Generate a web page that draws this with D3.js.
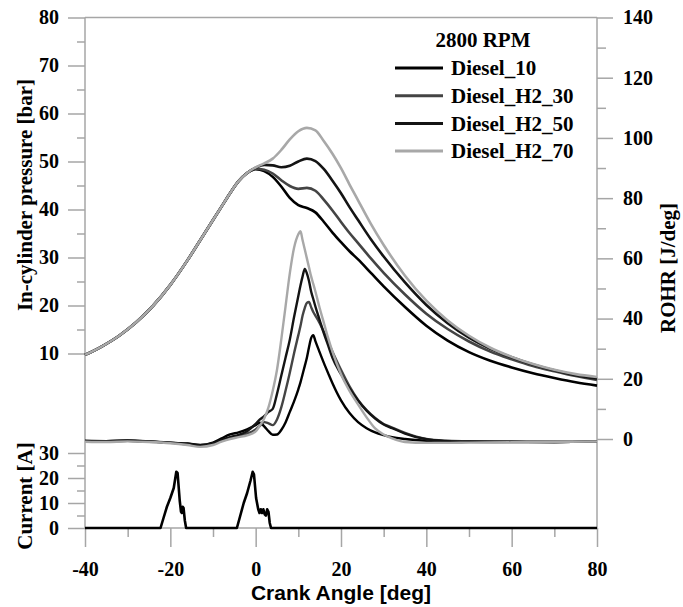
<!DOCTYPE html>
<html>
<head>
<meta charset="utf-8">
<script src="https://cdn.jsdelivr.net/npm/d3@7"></script>
<style>
  body { margin: 0; background: #fff; }
  svg text { font-family: "Liberation Serif", "Times New Roman", serif; font-weight: bold; fill: #000; }
</style>
</head>
<body>
<svg id="chart" width="683" height="607"></svg>
<script>
// series names + colours (legend order)
const seriesNames = ["Diesel_10", "Diesel_H2_30", "Diesel_H2_50", "Diesel_H2_70"];
const seriesColors = ["#000000", "#444444", "#141414", "#a8a8a8"];

// in-cylinder pressure [bar]: shared compression stroke, then one tail per case
const compressionAngles = [-40, -36, -32, -28, -24, -20, -16, -12, -8, -6, -4, -2];
const compressionPressure = [9.7, 11.5, 13.7, 16.5, 20.0, 24.3, 29.4, 35.0, 40.6, 43.4, 45.9, 47.6];

const expansionAngles = [0, 2, 4, 6, 8, 10, 12, 14, 16, 18, 20, 22, 24, 27, 30, 35, 40, 45, 50, 55, 60, 65, 70, 75, 80];
const pressureD10 = [48.4, 48.0, 46.8, 44.8, 42.4, 40.9, 40.3, 39.4, 37.4, 35.2, 33.2, 31.3, 29.6, 26.8, 24.0, 19.7, 15.8, 12.7, 10.3, 8.5, 7.1, 5.9, 4.9, 4.0, 3.3];
const pressureH30 = [48.5, 48.3, 47.5, 46.1, 44.9, 44.3, 44.5, 43.9, 42.0, 39.8, 37.4, 35.1, 33.0, 29.8, 26.8, 22.3, 18.3, 15.1, 12.5, 10.4, 8.8, 7.4, 6.3, 5.3, 4.5];
const pressureH50 = [48.7, 49.3, 49.2, 48.8, 49.1, 50.0, 50.6, 50.1, 48.4, 46.0, 43.4, 40.5, 37.8, 33.8, 30.2, 24.8, 20.1, 16.3, 13.3, 11.0, 9.2, 7.7, 6.5, 5.5, 4.8];
const pressureH70 = [48.8, 49.6, 50.6, 52.4, 54.6, 56.3, 57.0, 56.5, 54.2, 51.6, 48.6, 45.2, 41.9, 37.0, 32.6, 26.2, 21.0, 16.9, 13.7, 11.2, 9.3, 7.8, 6.6, 5.7, 5.1];

// rate of heat release [J/deg]
const rohrAngles = [-40, -35, -30, -25, -20, -16, -13, -10, -8, -6, -4, -2, 0, 1, 2, 3, 4, 5, 6, 7, 8, 9, 10, 10.5, 11, 11.5, 12, 12.5, 13, 13.5, 14, 15, 16, 17, 18, 20, 22, 24, 26, 28, 30, 32, 35, 40, 45, 50, 60, 70, 80];
const rohrD10 = [-0.6, -0.7, -0.5, -0.8, -1.3, -1.5, -2.0, -1.2, 0.2, 1.5, 2.2, 3.2, 4.6, 5.4, 4.2, 2.6, 1.4, 1.5, 3.0, 5.5, 9.0, 12.5, 16.5, 18.8, 21.5, 24.2, 27.0, 30.5, 33.5, 34.5, 32.5, 28.8, 25.2, 21.8, 18.5, 12.8, 8.6, 5.6, 3.6, 2.2, 1.3, 0.6, 0.0, -0.6, -0.8, -0.8, -0.9, -1.0, -0.7];
const rohrH30 = [-0.8, -0.8, -0.6, -0.9, -1.2, -1.8, -2.3, -1.7, -0.6, 0.4, 1.0, 1.8, 3.2, 4.4, 5.6, 5.2, 4.6, 6.5, 10.5, 16.0, 22.0, 28.5, 34.5, 37.5, 41.0, 43.5, 45.2, 45.5, 43.8, 42.2, 41.0, 38.5, 35.5, 32.3, 29.0, 23.0, 17.5, 13.0, 9.6, 7.0, 5.0, 3.8, 2.0, 0.0, -0.6, -0.8, -0.9, -1.0, -0.7];
const rohrH50 = [-0.7, -0.7, -0.6, -0.8, -1.2, -1.6, -2.1, -1.4, -0.3, 0.6, 1.4, 2.6, 5.0, 6.5, 7.6, 9.0, 10.0, 15.0, 21.0, 27.0, 33.0, 40.5, 47.5, 51.0, 54.0, 56.5, 55.0, 52.5, 49.0, 46.5, 44.0, 39.5, 35.0, 31.0, 27.0, 21.5, 16.8, 12.8, 9.4, 6.8, 4.8, 3.6, 1.8, -0.1, -0.7, -0.9, -1.0, -1.0, -0.7];
const rohrH70 = [-0.9, -1.0, -0.8, -1.0, -1.4, -2.0, -2.6, -2.0, -0.9, 0.0, 0.6, 1.2, 2.5, 4.5, 6.8, 10.5, 16.0, 23.0, 33.0, 44.0, 55.0, 63.5, 68.0, 69.0, 66.0, 63.0, 60.0, 57.0, 54.0, 51.5, 49.0, 43.5, 38.5, 33.5, 29.0, 21.5, 16.0, 11.5, 7.2, 3.5, 1.5, 0.2, -1.0, -1.3, -1.3, -1.2, -1.1, -1.0, -0.8];

// injector current [A]
const currentAngles = [-40, -22.3, -21.6, -20.8, -20.0, -19.2, -18.6, -18.3, -17.8, -17.5, -17.3, -17.1, -16.9, -16.6, -16.3, -4.4, -3.6, -2.8, -2.0, -1.2, -0.7, -0.4, 0.1, 0.6, 0.9, 1.2, 1.5, 1.8, 2.1, 2.4, 2.7, 3.0, 3.3, 3.6, 80];
const currentAmps = [0, 0, 4, 8.5, 12, 16, 22.5, 22, 11, 6.5, 6, 8.5, 8, 3, 0, 0, 5, 10, 14, 19, 22.5, 21.5, 12, 7.5, 6, 7.5, 6, 7.5, 5.5, 5, 7.5, 6.5, 2, 0, 0];

// tick values
const crankTicks = [-40, -20, 0, 20, 40, 60, 80];
const crankMinor = [-30, -10, 10, 30, 50, 70];
const pressureTicks = [10, 20, 30, 40, 50, 60, 70, 80];
const pressureMinor = [15, 25, 35, 45, 55, 65, 75];
const rohrTicks = [0, 20, 40, 60, 80, 100, 120, 140];
const rohrMinor = [10, 30, 50, 70, 90, 110, 130];
const currentTicks = [0, 10, 20, 30];
const currentMinor = [5, 15, 25];

const axisColor = "#a6a6a6";
const plotLeft = 85, plotRight = 597, plotTop = 17.5, plotBottom = 528;
const plain = d => String(d); // keep the ascii hyphen for negatives

const svg = d3.select("#chart");

const x = d3.scaleLinear().domain([-40, 80]).range([plotLeft, plotRight]);
const yP = d3.scaleLinear().domain([0, 80]).range([401.5, plotTop]);
const yR = d3.scaleLinear().domain([0, 140]).range([439, plotTop]);
const yC = d3.scaleLinear().domain([0, 30]).range([plotBottom, 453]);

function styleAxis(g) {
  g.select(".domain").remove();
  g.selectAll(".tick line").attr("stroke", axisColor).attr("stroke-width", 1.5);
  g.selectAll(".tick text").attr("font-size", 20).attr("fill", "#000");
}

// frame
const frame = svg.append("g").attr("class", "frame")
  .attr("stroke", axisColor).attr("stroke-width", 1.5);
frame.append("line").attr("x1", plotLeft).attr("x2", plotLeft).attr("y1", plotTop).attr("y2", plotBottom);
frame.append("line").attr("x1", plotRight).attr("x2", plotRight).attr("y1", plotTop).attr("y2", plotBottom);
frame.append("line").attr("x1", plotLeft).attr("x2", plotRight).attr("y1", plotTop).attr("y2", plotTop);
frame.append("line").attr("x1", plotLeft).attr("x2", plotRight).attr("y1", plotBottom).attr("y2", plotBottom);

// left axes
svg.append("g").attr("transform", `translate(${plotLeft},0)`)
  .call(d3.axisLeft(yP).tickValues(pressureTicks).tickFormat(plain).tickSize(17).tickPadding(9)).call(styleAxis);
svg.append("g").attr("transform", `translate(${plotLeft},0)`)
  .call(d3.axisLeft(yP).tickValues(pressureMinor).tickSize(8).tickFormat("")).call(styleAxis);
svg.append("g").attr("transform", `translate(${plotLeft},0)`)
  .call(d3.axisLeft(yC).tickValues(currentTicks).tickFormat(plain).tickSize(17).tickPadding(9)).call(styleAxis);
svg.append("g").attr("transform", `translate(${plotLeft},0)`)
  .call(d3.axisLeft(yC).tickValues(currentMinor).tickSize(8).tickFormat("")).call(styleAxis);

// right axis
svg.append("g").attr("transform", `translate(${plotRight},0)`)
  .call(d3.axisRight(yR).tickValues(rohrTicks).tickFormat(plain).tickSize(16).tickPadding(10)).call(styleAxis);
svg.append("g").attr("transform", `translate(${plotRight},0)`)
  .call(d3.axisRight(yR).tickValues(rohrMinor).tickSize(9).tickFormat("")).call(styleAxis);

// bottom axis
svg.append("g").attr("transform", `translate(0,${plotBottom})`)
  .call(d3.axisBottom(x).tickValues(crankTicks).tickFormat(plain).tickSize(19).tickPadding(15)).call(styleAxis);
svg.append("g").attr("transform", `translate(0,${plotBottom})`)
  .call(d3.axisBottom(x).tickValues(crankMinor).tickSize(9).tickFormat("")).call(styleAxis);

// lines
const pressureSeries = [pressureD10, pressureH30, pressureH50, pressureH70].map(tail =>
  compressionAngles.map((a, i) => [a, compressionPressure[i]])
    .concat(expansionAngles.map((a, i) => [a, tail[i]])));
const rohrSeries = [rohrD10, rohrH30, rohrH50, rohrH70].map(vals =>
  rohrAngles.map((a, i) => [a, vals[i]]));
const currentSeries = currentAngles.map((a, i) => [a, currentAmps[i]]);

const pLine = d3.line().x(d => x(d[0])).y(d => yP(d[1])).curve(d3.curveMonotoneX);
const rLine = d3.line().x(d => x(d[0])).y(d => yR(d[1])).curve(d3.curveMonotoneX);
const cLine = d3.line().x(d => x(d[0])).y(d => yC(d[1]));

svg.append("g").attr("class", "pressure")
  .selectAll("path").data(pressureSeries).enter()
  .append("path")
    .attr("d", pLine)
    .attr("fill", "none")
    .attr("stroke", (d, i) => seriesColors[i])
    .attr("stroke-width", 2.6);

svg.append("g").attr("class", "rohr")
  .selectAll("path").data(rohrSeries).enter()
  .append("path")
    .attr("d", rLine)
    .attr("fill", "none")
    .attr("stroke", (d, i) => seriesColors[i])
    .attr("stroke-width", 2.4)
    .attr("stroke-linejoin", "round");

svg.append("path")
  .attr("d", cLine(currentSeries))
  .attr("fill", "none")
  .attr("stroke", "#000")
  .attr("stroke-width", 2.6)
  .attr("stroke-linejoin", "round");

// axis titles
svg.append("text")
  .attr("transform", "translate(25,195) rotate(-90)")
  .attr("text-anchor", "middle").attr("dy", "0.35em")
  .attr("font-size", 21)
  .text("In-cylinder pressure [bar]");
svg.append("text")
  .attr("transform", "translate(25,496) rotate(-90)")
  .attr("text-anchor", "middle").attr("dy", "0.35em")
  .attr("font-size", 21)
  .text("Current [A]");
svg.append("text")
  .attr("transform", "translate(668,268) rotate(-90)")
  .attr("text-anchor", "middle").attr("dy", "0.35em")
  .attr("font-size", 21)
  .text("ROHR [J/deg]");
svg.append("text")
  .attr("x", (plotLeft + plotRight) / 2).attr("y", 600)
  .attr("text-anchor", "middle")
  .attr("font-size", 21)
  .style("font-family", "'Liberation Sans', Arial, sans-serif")
  .text("Crank Angle [deg]");

// legend
const legend = svg.append("g").attr("class", "legend");
legend.append("text")
  .attr("x", 483).attr("y", 40).attr("dy", "0.35em")
  .attr("text-anchor", "middle").attr("font-size", 21)
  .text("2800 RPM");
const rows = legend.selectAll("g.row").data(seriesNames).enter()
  .append("g").attr("class", "row")
  .attr("transform", (d, i) => `translate(0,${68 + i * 27.7})`);
rows.append("line")
  .attr("x1", 395).attr("x2", 443)
  .attr("stroke", (d, i) => seriesColors[i]).attr("stroke-width", 3);
rows.append("text")
  .attr("x", 451).attr("dy", "0.35em").attr("font-size", 21)
  .text(d => d);
</script>
</body>
</html>
